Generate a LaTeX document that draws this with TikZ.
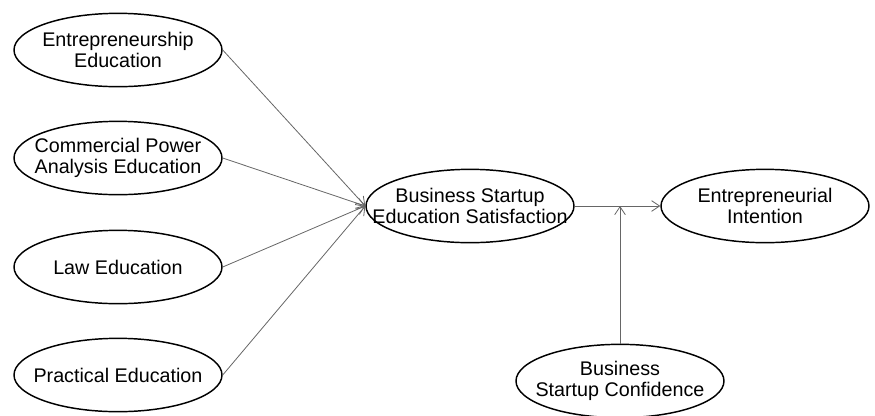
\documentclass[tikz,border=0pt]{standalone}
\usepackage{fontspec}
\setmainfont{Liberation Sans}
\usetikzlibrary{arrows.meta, positioning, shapes.geometric}

\begin{document}
\begin{tikzpicture}[
        x=0.75pt, y=-0.75pt,
        every node/.style={draw, ellipse, line width=1.1pt,
            inner xsep=-20pt, inner ysep=-2pt,
            minimum width=156pt, minimum height=55pt, align=center,
            font=\fontsize{14.8}{15.8}\selectfont},
        link/.style={draw=gray!80!black, line width=0.6pt,
            -{Straight Barb[length=6pt, width=8pt]}}
    ]
    \useasboundingbox (0,0) rectangle (875,415);

    % Education Nodes
    \node (ee) at (118, 50) {Entrepreneurship\\Education};
    \node (cpa) at (118, 158) {Commercial Power\\Analysis Education};
    \node (law) at (118, 267) {Law Education};
    \node (prac) at (118, 375) {Practical Education};

    % Satisfaction Node
    \node (bses) at (470, 206) {Business Startup\\Education Satisfaction};

    % Intention Node
    \node (ei) at (765, 206) {Entrepreneurial\\Intention};

    % Confidence Node
    \node (bsc) at (620, 381) {Business\\Startup Confidence};

    % Meeting Point
    \coordinate (mid) at (620, 206);

    % Draw Arrows
    \draw[link] (ee.east) -- (bses.west);
    \draw[link] (cpa.east) -- (bses.west);
    \draw[link] (law.east) -- (bses.west);
    \draw[link] (prac.east) -- (bses.west);
    \draw[link] (bses.east) -- (ei.west);
    \draw[link] (bsc.north) -- (mid);

\end{tikzpicture}
\end{document}
